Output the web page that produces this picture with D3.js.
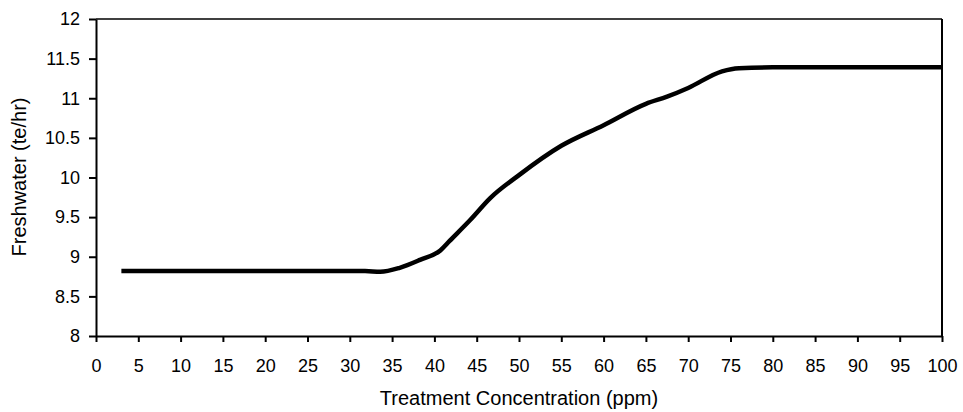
<!DOCTYPE html>
<meta charset="utf-8">
<style>
body { margin: 0; background: #fff; }
text { font-family: "Liberation Sans", Arial, sans-serif; fill: #000; }
.axis text { font-size: 18px; }
.axis path, .axis line { stroke: #000; stroke-width: 2; }
</style>
<svg width="963" height="412"></svg>
<script src="https://d3js.org/d3.v7.min.js"></script>
<script>
// concentration (ppm) and freshwater (te/hr)
var conc  = [3, 10, 20, 31.8, 33.6, 35.9, 38.3, 40.7, 41.8, 44.2, 46.6, 50, 55, 60, 65, 67.5, 70, 74, 76, 80, 90, 100];
var fresh = [8.82, 8.82, 8.82, 8.82, 8.81, 8.86, 8.96, 9.08, 9.2, 9.46, 9.74, 10.03, 10.4, 10.66, 10.93, 11.02, 11.13, 11.34, 11.38, 11.39, 11.39, 11.39];
var xTicks = d3.range(0, 101, 5);
var yTicks = [8, 8.5, 9, 9.5, 10, 10.5, 11, 11.5, 12];

var svg = d3.select("svg"),
    margin = {top: 19, right: 21, bottom: 76, left: 96},
    width = +svg.attr("width") - margin.left - margin.right,
    height = +svg.attr("height") - margin.top - margin.bottom;

var x = d3.scaleLinear().domain([0, 100]).range([0, width]),
    y = d3.scaleLinear().domain([8, 12]).range([height, 0]);

var g = svg.append("g")
    .attr("transform", "translate(" + margin.left + "," + margin.top + ")");

// frame
g.append("line").attr("x1", 0).attr("x2", width).attr("y1", 0).attr("y2", 0)
    .attr("stroke", "#000").attr("stroke-width", 1.5);
g.append("line").attr("x1", width).attr("x2", width).attr("y1", 0).attr("y2", height)
    .attr("stroke", "#000").attr("stroke-width", 2);

g.append("g")
    .attr("class", "axis")
    .attr("transform", "translate(0," + height + ")")
    .call(d3.axisBottom(x).tickValues(xTicks).tickSize(6).tickSizeOuter(0).tickPadding(17).tickFormat(d3.format("d")));

g.append("g")
    .attr("class", "axis")
    .call(d3.axisLeft(y).tickValues(yTicks).tickSize(7).tickSizeOuter(0).tickPadding(9).tickFormat(function(d) { return String(d); }));

g.append("path")
    .datum(conc.map(function(c, i) { return [c, fresh[i]]; }))
    .attr("fill", "none")
    .attr("stroke", "#000")
    .attr("stroke-width", 4.5)
    .attr("stroke-linejoin", "round")
    .attr("d", d3.line()
        .x(function(d) { return x(d[0]); })
        .y(function(d) { return y(d[1]); })
        .curve(d3.curveMonotoneX));

svg.append("text")
    .attr("x", margin.left + width / 2)
    .attr("y", 405)
    .attr("text-anchor", "middle")
    .style("font-size", "20px")
    .text("Treatment Concentration (ppm)");

svg.append("text")
    .attr("transform", "translate(26,177) rotate(-90)")
    .attr("text-anchor", "middle")
    .style("font-size", "20px")
    .text("Freshwater (te/hr)");
</script>
